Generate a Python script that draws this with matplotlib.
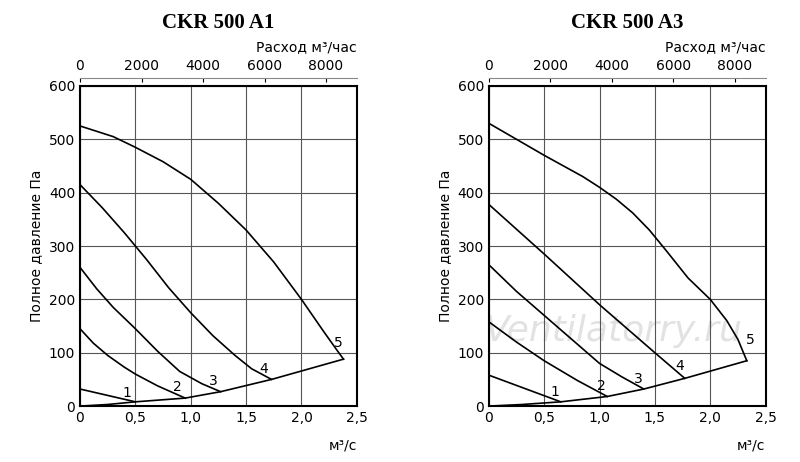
import matplotlib
matplotlib.use('Agg')
import matplotlib.pyplot as plt

titles = ['CKR 500 A1', 'CKR 500 A3']

# curves (x in m3/s, y in Pa)
left_curves = [
    ([0, 0.25, 0.5], [32, 20, 8]),
    ([0, 0.12, 0.25, 0.4, 0.5, 0.7, 0.95], [145, 118, 95, 73, 60, 38, 15]),
    ([0, 0.15, 0.3, 0.5, 0.7, 0.9, 1.1, 1.27], [260, 220, 185, 145, 103, 65, 42, 27]),
    ([0, 0.2, 0.4, 0.6, 0.8, 1.0, 1.2, 1.4, 1.55, 1.73], [415, 372, 325, 275, 222, 175, 132, 95, 70, 50]),
    ([0, 0.3, 0.5, 0.75, 1.0, 1.25, 1.5, 1.75, 2.0, 2.2, 2.32, 2.38],
     [525, 505, 485, 458, 425, 380, 330, 270, 200, 140, 105, 88]),
]
left_sys = ([0, 0.25, 0.5, 0.95, 1.27, 1.73, 2.38], [0, 3, 8, 15, 27, 50, 88])
left_lbl = [(0.42, 12, '1'), (0.88, 22, '2'), (1.2, 34, '3'), (1.66, 57, '4'), (2.33, 106, '5')]

right_curves = [
    ([0, 0.65], [58, 8]),
    ([0, 0.25, 0.5, 0.8, 1.07], [158, 120, 85, 48, 18]),
    ([0, 0.25, 0.5, 0.75, 1.0, 1.2, 1.4], [265, 215, 170, 125, 80, 55, 32]),
    ([0, 0.5, 1.0, 1.5, 1.77], [378, 285, 190, 100, 52]),
    ([0, 0.25, 0.5, 0.85, 1.0, 1.15, 1.3, 1.45, 1.6, 1.8, 2.0, 2.15, 2.25, 2.33],
     [530, 500, 470, 430, 410, 388, 362, 330, 292, 240, 200, 160, 125, 85]),
]
right_sys = ([0, 0.3, 0.65, 1.07, 1.4, 1.77, 2.33], [0, 3, 8, 18, 32, 52, 85])
right_lbl = [(0.6, 14, '1'), (1.02, 24, '2'), (1.35, 38, '3'), (1.72, 62, '4'), (2.36, 110, '5')]

top_ticks = [0, 2000, 4000, 6000, 8000]

fig = plt.figure(figsize=(8, 4.62), dpi=100)
lefts = [0.1, 0.611]
data = [(left_curves, left_sys, left_lbl), (right_curves, right_sys, right_lbl)]

for i in range(2):
    ax = fig.add_axes([lefts[i], 0.121, 0.346, 0.693])
    curves, sysc, lbls = data[i]
    for xs, ys in curves:
        ax.plot(xs, ys, color='black', lw=1.2)
    ax.plot(sysc[0], sysc[1], color='black', lw=1.2)
    for x, y, t in lbls:
        ax.text(x, y, t, fontsize=10, ha='center', va='bottom')
    ax.set_xlim(0, 2.5)
    ax.set_ylim(0, 600)
    ax.set_xticks([0, 0.5, 1.0, 1.5, 2.0, 2.5])
    ax.set_xticklabels(['0', '0,5', '1,0', '1,5', '2,0', '2,5'])
    ax.set_yticks(range(0, 700, 100))
    ax.tick_params(length=0, labelsize=10)
    ax.grid(True, color='#555555', lw=0.8)
    for s in ax.spines.values():
        s.set_linewidth(1.5)
    ax.set_ylabel('Полное давление Па', fontsize=10)
    ax.text(1.0, -0.1, 'м³/с', transform=ax.transAxes, ha='right', va='top', fontsize=10)
    top = ax.secondary_xaxis('top', functions=(lambda v: v * 3600, lambda v: v / 3600))
    top.set_xticks(top_ticks)
    top.set_xticklabels([str(t) for t in top_ticks])
    top.tick_params(labelsize=10, length=3, direction='in')
    top.spines['top'].set_color('#888888')
    top.spines['top'].set_position(('outward', 6))
    ax.text(1.0, 1.1, 'Расход м³/час', transform=ax.transAxes, ha='right', va='bottom', fontsize=10)
    ax.set_title(titles[i], fontsize=15, fontweight='bold', family='Liberation Serif', pad=42)
    if i == 1:
        ax.text(0.45, 0.235, 'Ventilatorry.ru', transform=ax.transAxes, fontsize=26,
                style='italic', color='#e2e2e2', ha='center', va='center', zorder=0.5)

fig.savefig('out.png', dpi=100)
